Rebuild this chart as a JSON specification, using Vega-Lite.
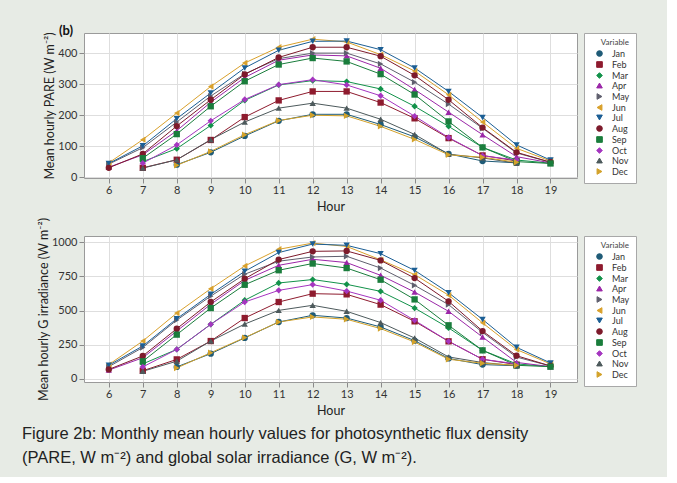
{
  "$schema": "https://vega.github.io/schema/vega-lite/v6.json",
  "background": "#e7ebe5",
  "padding": {"left": 21, "top": 24, "right": 30, "bottom": 10},
  "datasets": {
    "d": [
      {"m":"Jan","h":8,"a":40,"g":88},{"m":"Jan","h":9,"a":80,"g":185},{"m":"Jan","h":10,"a":133,"g":300},{"m":"Jan","h":11,"a":182,"g":416},{"m":"Jan","h":12,"a":203,"g":465},{"m":"Jan","h":13,"a":203,"g":445},{"m":"Jan","h":14,"a":170,"g":380},{"m":"Jan","h":15,"a":130,"g":280},{"m":"Jan","h":16,"a":75,"g":150},{"m":"Jan","h":17,"a":52,"g":105},{"m":"Jan","h":18,"a":46,"g":97},
      {"m":"Feb","h":7,"a":30,"g":60},{"m":"Feb","h":8,"a":56,"g":143},{"m":"Feb","h":9,"a":120,"g":277},{"m":"Feb","h":10,"a":194,"g":445},{"m":"Feb","h":11,"a":248,"g":562},{"m":"Feb","h":12,"a":277,"g":623},{"m":"Feb","h":13,"a":277,"g":618},{"m":"Feb","h":14,"a":241,"g":543},{"m":"Feb","h":15,"a":190,"g":421},{"m":"Feb","h":16,"a":126,"g":275},{"m":"Feb","h":17,"a":70,"g":144},{"m":"Feb","h":18,"a":52,"g":105},
      {"m":"Mar","h":7,"a":50,"g":110},{"m":"Mar","h":8,"a":92,"g":216},{"m":"Mar","h":9,"a":167,"g":399},{"m":"Mar","h":10,"a":248,"g":575},{"m":"Mar","h":11,"a":298,"g":701},{"m":"Mar","h":12,"a":312,"g":726},{"m":"Mar","h":13,"a":309,"g":691},{"m":"Mar","h":14,"a":285,"g":640},{"m":"Mar","h":15,"a":229,"g":518},{"m":"Mar","h":16,"a":164,"g":373},{"m":"Mar","h":17,"a":96,"g":209},{"m":"Mar","h":18,"a":55,"g":110},{"m":"Mar","h":19,"a":45,"g":90},
      {"m":"Apr","h":6,"a":32,"g":65},{"m":"Apr","h":7,"a":72,"g":155},{"m":"Apr","h":8,"a":150,"g":350},{"m":"Apr","h":9,"a":242,"g":545},{"m":"Apr","h":10,"a":322,"g":720},{"m":"Apr","h":11,"a":378,"g":830},{"m":"Apr","h":12,"a":395,"g":874},{"m":"Apr","h":13,"a":392,"g":850},{"m":"Apr","h":14,"a":352,"g":757},{"m":"Apr","h":15,"a":283,"g":635},{"m":"Apr","h":16,"a":210,"g":494},{"m":"Apr","h":17,"a":137,"g":306},{"m":"Apr","h":18,"a":66,"g":121},{"m":"Apr","h":19,"a":46,"g":90},
      {"m":"May","h":6,"a":42,"g":90},{"m":"May","h":7,"a":95,"g":230},{"m":"May","h":8,"a":178,"g":430},{"m":"May","h":9,"a":262,"g":605},{"m":"May","h":10,"a":334,"g":765},{"m":"May","h":11,"a":383,"g":860},{"m":"May","h":12,"a":401,"g":891},{"m":"May","h":13,"a":401,"g":896},{"m":"May","h":14,"a":366,"g":810},{"m":"May","h":15,"a":307,"g":684},{"m":"May","h":16,"a":236,"g":543},{"m":"May","h":17,"a":158,"g":340},{"m":"May","h":18,"a":78,"g":160},{"m":"May","h":19,"a":48,"g":95},
      {"m":"Jun","h":6,"a":46,"g":105},{"m":"Jun","h":7,"a":121,"g":277},{"m":"Jun","h":8,"a":207,"g":481},{"m":"Jun","h":9,"a":293,"g":659},{"m":"Jun","h":10,"a":369,"g":825},{"m":"Jun","h":11,"a":420,"g":947},{"m":"Jun","h":12,"a":446,"g":992},{"m":"Jun","h":13,"a":437,"g":968},{"m":"Jun","h":14,"a":396,"g":870},{"m":"Jun","h":15,"a":343,"g":762},{"m":"Jun","h":16,"a":266,"g":612},{"m":"Jun","h":17,"a":178,"g":410},{"m":"Jun","h":18,"a":93,"g":215},{"m":"Jun","h":19,"a":52,"g":110},
      {"m":"Jul","h":6,"a":44,"g":100},{"m":"Jul","h":7,"a":101,"g":241},{"m":"Jul","h":8,"a":189,"g":440},{"m":"Jul","h":9,"a":272,"g":618},{"m":"Jul","h":10,"a":353,"g":786},{"m":"Jul","h":11,"a":410,"g":923},{"m":"Jul","h":12,"a":439,"g":985},{"m":"Jul","h":13,"a":440,"g":976},{"m":"Jul","h":14,"a":412,"g":915},{"m":"Jul","h":15,"a":353,"g":793},{"m":"Jul","h":16,"a":277,"g":630},{"m":"Jul","h":17,"a":193,"g":435},{"m":"Jul","h":18,"a":104,"g":231},{"m":"Jul","h":19,"a":55,"g":117},
      {"m":"Aug","h":6,"a":30,"g":70},{"m":"Aug","h":7,"a":75,"g":168},{"m":"Aug","h":8,"a":165,"g":367},{"m":"Aug","h":9,"a":250,"g":562},{"m":"Aug","h":10,"a":332,"g":732},{"m":"Aug","h":11,"a":387,"g":872},{"m":"Aug","h":12,"a":420,"g":932},{"m":"Aug","h":13,"a":420,"g":935},{"m":"Aug","h":14,"a":391,"g":866},{"m":"Aug","h":15,"a":329,"g":737},{"m":"Aug","h":16,"a":250,"g":567},{"m":"Aug","h":17,"a":160,"g":350},{"m":"Aug","h":18,"a":80,"g":170},{"m":"Aug","h":19,"a":48,"g":95},
      {"m":"Sep","h":7,"a":61,"g":129},{"m":"Sep","h":8,"a":139,"g":324},{"m":"Sep","h":9,"a":229,"g":518},{"m":"Sep","h":10,"a":310,"g":688},{"m":"Sep","h":11,"a":364,"g":794},{"m":"Sep","h":12,"a":385,"g":843},{"m":"Sep","h":13,"a":374,"g":810},{"m":"Sep","h":14,"a":333,"g":725},{"m":"Sep","h":15,"a":267,"g":581},{"m":"Sep","h":16,"a":180,"g":392},{"m":"Sep","h":17,"a":96,"g":209},{"m":"Sep","h":18,"a":50,"g":100},{"m":"Sep","h":19,"a":44,"g":90},
      {"m":"Oct","h":7,"a":45,"g":88},{"m":"Oct","h":8,"a":104,"g":216},{"m":"Oct","h":9,"a":182,"g":399},{"m":"Oct","h":10,"a":251,"g":562},{"m":"Oct","h":11,"a":299,"g":647},{"m":"Oct","h":12,"a":315,"g":689},{"m":"Oct","h":13,"a":298,"g":642},{"m":"Oct","h":14,"a":263,"g":575},{"m":"Oct","h":15,"a":197,"g":428},{"m":"Oct","h":16,"a":128,"g":275},{"m":"Oct","h":17,"a":69,"g":144},{"m":"Oct","h":18,"a":55,"g":110},
      {"m":"Nov","h":7,"a":29,"g":56},{"m":"Nov","h":8,"a":56,"g":130},{"m":"Nov","h":9,"a":121,"g":277},{"m":"Nov","h":10,"a":178,"g":401},{"m":"Nov","h":11,"a":223,"g":501},{"m":"Nov","h":12,"a":239,"g":538},{"m":"Nov","h":13,"a":223,"g":494},{"m":"Nov","h":14,"a":187,"g":412},{"m":"Nov","h":15,"a":138,"g":299},{"m":"Nov","h":16,"a":74,"g":161},{"m":"Nov","h":17,"a":62,"g":120},{"m":"Nov","h":18,"a":45,"g":97},
      {"m":"Dec","h":8,"a":38,"g":80},{"m":"Dec","h":9,"a":83,"g":192},{"m":"Dec","h":10,"a":137,"g":302},{"m":"Dec","h":11,"a":183,"g":416},{"m":"Dec","h":12,"a":200,"g":453},{"m":"Dec","h":13,"a":198,"g":436},{"m":"Dec","h":14,"a":164,"g":368},{"m":"Dec","h":15,"a":122,"g":270},{"m":"Dec","h":16,"a":72,"g":144},{"m":"Dec","h":17,"a":64,"g":115},{"m":"Dec","h":18,"a":48,"g":100}
    ]
  },
  "data": {"name": "d"},
  "title": {
    "text": ["Figure 2b: Monthly mean hourly values for photosynthetic flux density", "(PARE, W m⁻²) and global solar irradiance (G, W m⁻²)."],
    "orient": "bottom", "anchor": "start", "frame": "bounds",
    "font": "Liberation Sans", "fontSize": 16.5, "fontWeight": "normal",
    "color": "#222222", "lineHeight": 24, "offset": 9, "dx": -15
  },
  "spacing": 3,
  "vconcat": [
    {
      "width": 493, "height": 145,
      "title": {"text": "(b)", "anchor": "start", "frame": "group", "dx": -25, "offset": -6, "fontSize": 13, "fontWeight": "bold", "color": "#111111", "font": "Lato"},
      "encoding": {
        "x": {"field": "h", "type": "quantitative", "scale": {"domain": [5.27, 19.78], "nice": false, "zero": false},
              "axis": {"values": [6,7,8,9,10,11,12,13,14,15,16,17,18,19], "title": "Hour", "format": "d"}},
        "y": {"field": "a", "type": "quantitative", "scale": {"domain": [-3, 466], "nice": false, "zero": false},
              "axis": {"values": [0,100,200,300,400], "title": "Mean hourly PARE (W m⁻²)", "format": "d"}},
        "color": {"field": "m", "type": "nominal", "title": "Variable",
                  "scale": {"domain": ["Jan","Feb","Mar","Apr","May","Jun","Jul","Aug","Sep","Oct","Nov","Dec"],
                            "range": ["#1f5b77","#8e1b2e","#12924a","#9b27a8","#5f5f6e","#d9a12c","#1b5e94","#7d1a2b","#1a7d3c","#a535c0","#4d5a5c","#d3a22a"]}}
      },
      "layer": [
        {"mark": {"type": "line", "strokeWidth": 1}},
        {"mark": {"type": "point", "filled": true, "size": 40, "opacity": 1},
         "encoding": {"shape": {"field": "m", "type": "nominal", "title": "Variable",
           "scale": {"domain": ["Jan","Feb","Mar","Apr","May","Jun","Jul","Aug","Sep","Oct","Nov","Dec"],
                     "range": ["circle","square","diamond","triangle-up","triangle-right","triangle-left","triangle-down","circle","square","diamond","triangle-up","triangle-right"]}}}}
      ]
    },
    {
      "width": 493, "height": 146,
      "encoding": {
        "x": {"field": "h", "type": "quantitative", "scale": {"domain": [5.27, 19.78], "nice": false, "zero": false},
              "axis": {"values": [6,7,8,9,10,11,12,13,14,15,16,17,18,19], "title": "Hour", "format": "d"}},
        "y": {"field": "g", "type": "quantitative", "scale": {"domain": [-22, 1044], "nice": false, "zero": false},
              "axis": {"values": [0,250,500,750,1000], "title": "Mean hourly G irradiance (W m⁻²)", "format": "d"}},
        "color": {"field": "m", "type": "nominal", "title": "Variable",
                  "scale": {"domain": ["Jan","Feb","Mar","Apr","May","Jun","Jul","Aug","Sep","Oct","Nov","Dec"],
                            "range": ["#1f5b77","#8e1b2e","#12924a","#9b27a8","#5f5f6e","#d9a12c","#1b5e94","#7d1a2b","#1a7d3c","#a535c0","#4d5a5c","#d3a22a"]}}
      },
      "layer": [
        {"mark": {"type": "line", "strokeWidth": 1}},
        {"mark": {"type": "point", "filled": true, "size": 40, "opacity": 1},
         "encoding": {"shape": {"field": "m", "type": "nominal", "title": "Variable",
           "scale": {"domain": ["Jan","Feb","Mar","Apr","May","Jun","Jul","Aug","Sep","Oct","Nov","Dec"],
                     "range": ["circle","square","diamond","triangle-up","triangle-right","triangle-left","triangle-down","circle","square","diamond","triangle-up","triangle-right"]}}}}
      ]
    }
  ],
  "resolve": {
    "scale": {"y": "independent", "color": "independent", "shape": "independent"},
    "legend": {"color": "independent", "shape": "independent"}
  },
  "config": {
    "font": "Lato",
    "view": {"stroke": "#9a9a9a", "fill": "white"},
    "axis": {"domain": false, "grid": true, "gridColor": "#dedede", "tickColor": "#8a8a8a", "tickSize": 5,
             "labelFontSize": 11, "labelColor": "#333333", "labelFont": "Lato",
             "titleFontSize": 12.5, "titleFontWeight": "normal", "titleColor": "#222222", "titleFont": "Lato"},
    "axisX": {"labelPadding": 1, "titlePadding": 5},
    "axisY": {"labelPadding": 2, "titlePadding": 1},
    "legend": {"orient": "right", "offset": 7, "fillColor": "white", "strokeColor": "#a8a8a8", "padding": 6,
               "titleFontSize": 8, "titleFontWeight": "normal", "titleAnchor": "end", "titleColor": "#444444", "titlePadding": 2,
               "labelFontSize": 9, "labelColor": "#333333", "symbolSize": 32, "rowPadding": 0,
               "symbolOffset": 5, "labelOffset": 8, "symbolStrokeWidth": 1, "labelFont": "Lato", "titleFont": "Lato"}
  }
}
